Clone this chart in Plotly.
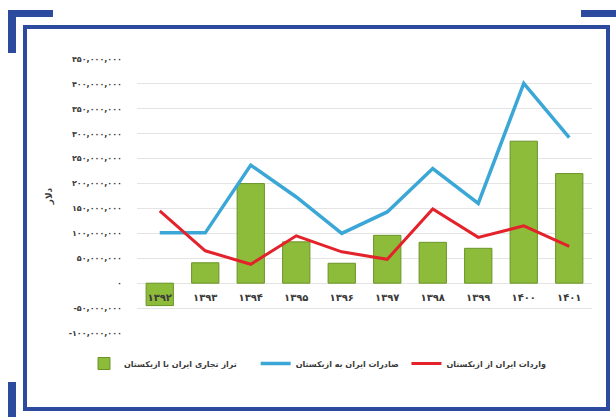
import plotly.graph_objects as go

# -------------------------------------------------------
# Data (values in USD)
# -------------------------------------------------------
years = ["۱۳۹۲", "۱۳۹۳", "۱۳۹۴", "۱۳۹۵", "۱۳۹۶", "۱۳۹۷", "۱۳۹۸", "۱۳۹۹", "۱۴۰۰", "۱۴۰۱"]
exports = [101e6, 101e6, 237e6, 173e6, 100e6, 143e6, 230e6, 160e6, 401e6, 292e6]
imports = [145e6, 65e6, 38e6, 95e6, 63e6, 48e6, 149e6, 92e6, 115e6, 74e6]
balance = [-45e6, 41e6, 200e6, 83e6, 40e6, 96e6, 82e6, 70e6, 285e6, 220e6]

y_ticks = [-100e6, -50e6, 0, 50e6, 100e6, 150e6, 200e6, 250e6, 300e6, 350e6, 400e6, 450e6]
y_tick_text = [
    "-۱۰۰,۰۰۰,۰۰۰", "-۵۰,۰۰۰,۰۰۰", "۰", "۵۰,۰۰۰,۰۰۰", "۱۰۰,۰۰۰,۰۰۰",
    "۱۵۰,۰۰۰,۰۰۰", "۲۰۰,۰۰۰,۰۰۰", "۲۵۰,۰۰۰,۰۰۰", "۳۰۰,۰۰۰,۰۰۰",
    "۳۵۰,۰۰۰,۰۰۰", "۴۰۰,۰۰۰,۰۰۰", "۴۵۰,۰۰۰,۰۰۰",
]

# trailing no-break spaces widen the gap between legend entries
name_balance = "تراز تجاری ایران با ازبکستان" + "\u00a0" * 5
name_exports = "صادرات ایران به ازبکستان" + "\u00a0"
name_imports = "واردات ایران از ازبکستان"

FONT = "DejaVu Sans"
FRAME = "#2c4a9e"
TXT = "#3a3a3a"

fig = go.Figure()

fig.add_trace(go.Bar(
    x=years, y=balance, name=name_balance,
    width=0.6,
    marker=dict(color="#8dbb3a", line=dict(color="#6b9428", width=1)),
))
fig.add_trace(go.Scatter(
    x=years, y=exports, name=name_exports, mode="lines",
    line=dict(color="#3ba7d6", width=3.5),
))
fig.add_trace(go.Scatter(
    x=years, y=imports, name=name_imports, mode="lines",
    line=dict(color="#e3222b", width=3),
))

# plot area in px: x 137..592, y 59..333 -> helpers for paper coords
L, R, T, B = 137, 592, 59, 333


def px_x(v):
    return (v - L) / (R - L)


def px_y(v):
    return (B - v) / (B - T)


shapes = [
    # main frame
    dict(type="rect", xref="paper", yref="paper",
         x0=px_x(25), x1=px_x(608), y0=px_y(409), y1=px_y(27),
         line=dict(color=FRAME, width=4), layer="below"),
]
# corner decorations
for (x0, x1, y0, y1) in [(8, 53, 10, 17), (8, 16, 10, 53), (581, 620, 10, 17), (8, 16, 382, 420)]:
    shapes.append(dict(type="rect", xref="paper", yref="paper",
                       x0=px_x(x0), x1=px_x(x1), y0=px_y(y1), y1=px_y(y0),
                       line=dict(width=0), fillcolor=FRAME, layer="below"))

fig.update_layout(
    width=616, height=417,
    margin=dict(l=L, r=616 - R, t=T, b=417 - B),
    paper_bgcolor="white", plot_bgcolor="white",
    font=dict(family=FONT, color=TXT, size=9),
    showlegend=True,
    legend=dict(
        orientation="h", x=px_x(84), y=px_y(349), xanchor="left", yanchor="top",
        font=dict(size=8, color=TXT, weight="bold"),
        itemwidth=30, traceorder="normal",
    ),
    shapes=shapes,
)

fig.update_xaxes(
    anchor="free", position=px_y(290), showgrid=False, showline=False,
    ticks="", tickfont=dict(size=10, color=TXT, weight="bold"),
)
fig.update_yaxes(
    range=[-100e6, 450e6], tickvals=y_ticks, ticktext=y_tick_text,
    showgrid=True, gridcolor="#e4e4e4", gridwidth=1,
    zeroline=True, zerolinecolor="#e4e4e4", zerolinewidth=1,
    tickfont=dict(size=8, color=TXT, weight="bold"), ticklabelstandoff=14,
    title=dict(text="دلار", font=dict(size=9, color=TXT, weight="bold"), standoff=14),
)

fig.write_html(
    "out.html",
    config={"displayModeBar": False},
    post_script="document.body.style.margin='0';",
)
